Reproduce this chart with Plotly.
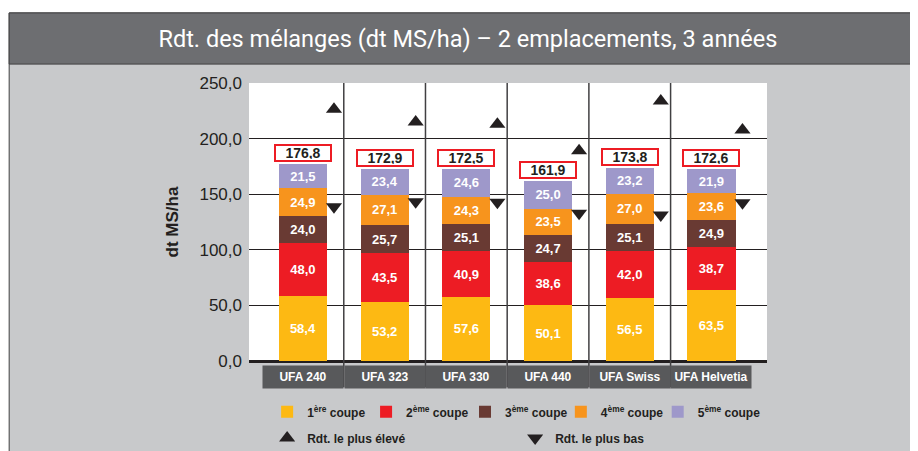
import plotly.graph_objects as go

categories = ["UFA 240", "UFA 323", "UFA 330", "UFA 440", "UFA Swiss", "UFA Helvetia"]
cut1 = [58.4, 53.2, 57.6, 50.1, 56.5, 63.5]
cut2 = [48.0, 43.5, 40.9, 38.6, 42.0, 38.7]
cut3 = [24.0, 25.7, 25.1, 24.7, 25.1, 24.9]
cut4 = [24.9, 27.1, 24.3, 23.5, 27.0, 23.6]
cut5 = [21.5, 23.4, 24.6, 25.0, 23.2, 21.9]
totals = [176.8, 172.9, 172.5, 161.9, 173.8, 172.6]
highest = [226.3, 215.0, 213.0, 189.1, 233.8, 207.7]
lowest = [138.8, 143.3, 142.7, 132.8, 131.3, 142.4]

series_names = ["1<sup>ère</sup> coupe", "2<sup>ème</sup> coupe", "3<sup>ème</sup> coupe",
                "4<sup>ème</sup> coupe", "5<sup>ème</sup> coupe"]
series_colors = ["#FDB913", "#ED1C24", "#693A33", "#F7941D", "#9E98CA"]
yticks = [0, 50, 100, 150, 200, 250]

FONT = "Liberation Sans, Arial, sans-serif"
TITLE_FONT = "Roboto, Liberation Sans, sans-serif"


def fmt(v):
    return f"{v:.1f}".replace(".", ",")


x = list(range(len(categories)))
fig = go.Figure()

legend_ids = ["legend", "legend3", "legend4", "legend5", "legend6"]
legend_x = [0.035, 0.226, 0.417, 0.602, 0.789]
for name, color, vals, lg in zip(series_names, series_colors,
                                 [cut1, cut2, cut3, cut4, cut5], legend_ids):
    fig.add_trace(go.Bar(
        x=x, y=vals, name=name, marker=dict(color=color, line=dict(width=0)),
        width=0.59, text=[fmt(v) for v in vals], textposition="inside",
        insidetextanchor="middle", textangle=0,
        textfont=dict(color="white", size=13, family=FONT, weight="bold"),
        legend=lg, hoverinfo="y+name",
    ))

fig.add_trace(go.Scatter(
    x=[i + 0.38 for i in x], y=highest, mode="markers", name="Rdt. le plus élevé",
    marker=dict(symbol="triangle-up", size=14, color="#231F20"), legend="legend2",
))
fig.add_trace(go.Scatter(
    x=[i + 0.38 for i in x], y=lowest, mode="markers", name="Rdt. le plus bas",
    marker=dict(symbol="triangle-down", size=14, color="#231F20"), legend="legend2",
))

annotations = []
for i, t in enumerate(totals):
    annotations.append(dict(
        x=i, y=t, xref="x", yref="y", text=fmt(t), showarrow=False,
        yanchor="bottom", yshift=2, bgcolor="white", bordercolor="#ED1C24",
        borderwidth=2, borderpad=1, width=52, height=12,
        font=dict(size=14, color="#231F20", family=FONT, weight="bold"),
    ))
for i, c in enumerate(categories):
    annotations.append(dict(
        x=i, y=-0.058, xref="x", yref="paper", text=c, showarrow=False,
        yanchor="middle", bgcolor="#58595B", width=78, height=20,
        font=dict(size=12, color="white", family=FONT, weight="bold"),
    ))

shapes = [
    # panel background
    dict(type="rect", xref="paper", yref="paper", x0=-0.463, x1=1.35, y0=-0.5, y1=1.252,
         fillcolor="#C8C9CB", line=dict(color="#414042", width=1), layer="below"),
    # title bar
    dict(type="rect", xref="paper", yref="paper", x0=-0.463, x1=1.35, y0=1.068, y1=1.252,
         fillcolor="#6D6E71", line=dict(color="#414042", width=1), layer="below"),
    # white plot background
    dict(type="rect", xref="paper", yref="paper", x0=0, x1=1, y0=0, y1=1,
         fillcolor="white", line=dict(width=0), layer="below"),
]
for i in range(len(categories) - 1):
    shapes.append(dict(type="line", xref="x", yref="paper", x0=i + 0.5, x1=i + 0.5,
                       y0=-0.094, y1=1, line=dict(color="#414042", width=1.5)))

legend_font = dict(family=FONT, size=12, color="#231F20", weight="bold")
legends = {}
for lg, lx in zip(legend_ids, legend_x):
    legends[lg] = dict(orientation="h", x=lx, y=-0.183, xanchor="left", yanchor="middle",
                       bgcolor="rgba(0,0,0,0)", itemwidth=30, font=legend_font)
legends["legend2"] = dict(orientation="h", x=0.035, y=-0.277, xanchor="left",
                          yanchor="middle", entrywidth=203, entrywidthmode="pixels",
                          bgcolor="rgba(0,0,0,0)", itemwidth=30, font=legend_font)

fig.update_layout(
    width=918, height=451,
    margin=dict(l=241, r=159, t=75, b=98, autoexpand=False),
    paper_bgcolor="white", plot_bgcolor="rgba(0,0,0,0)",
    separators=",.",
    barmode="stack",
    title=dict(text="Rdt. des mélanges (dt MS/ha) – 2 emplacements, 3 années",
               x=0.501, xref="container", xanchor="center",
               y=1 - 31 / 451, yref="container", yanchor="middle",
               font=dict(family=TITLE_FONT, size=23.5, color="white")),
    xaxis=dict(range=[-0.66, 5.68], showticklabels=False, showgrid=False,
               zeroline=False, showline=False, ticks=""),
    yaxis=dict(range=[0, 250], tickvals=yticks, tickformat=".1f",
               showgrid=True, gridcolor="#231F20", gridwidth=1.2,
               zeroline=True, zerolinecolor="#231F20", zerolinewidth=2.5,
               showline=False, ticks="", ticklabelstandoff=6,
               tickfont=dict(family=FONT, size=17, color="#231F20"),
               title=dict(text="<b>dt MS/ha</b>", standoff=16,
                          font=dict(family=FONT, size=17, color="#231F20"))),
    annotations=annotations,
    shapes=shapes,
    showlegend=True,
    **legends,
)

fig.write_html("out.html")
